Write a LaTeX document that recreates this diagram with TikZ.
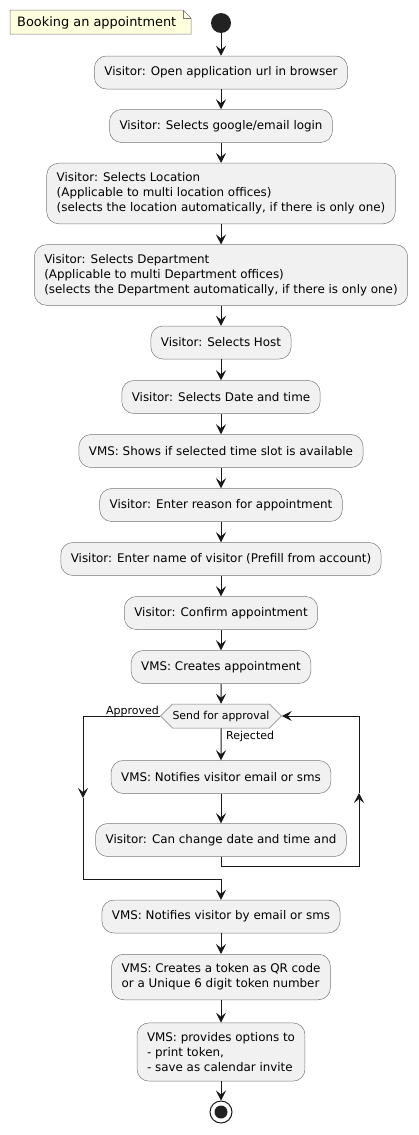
\documentclass[tikz,border=0pt]{standalone}
\usepackage{fontspec}
\setmainfont{DejaVu Sans}
\definecolor{boxfill}{RGB}{241,241,241}
\definecolor{boxline}{RGB}{120,120,120}
\definecolor{notefill}{RGB}{254,255,221}
\definecolor{flowline}{RGB}{24,24,24}
\definecolor{dotfill}{RGB}{34,34,34}
\usetikzlibrary{arrows.meta, positioning, shapes.symbols}

\begin{document}
\begin{tikzpicture}[
  x=1pt, y=-1pt,
  font=\fontsize{11.9}{15}\selectfont,
  act/.style={rectangle, rounded corners=12pt, draw=boxline, line width=0.5pt, fill=boxfill, minimum height=33pt, inner xsep=10pt, inner ysep=9.5pt, align=left},
  cond/.style={signal, signal to=east and west, signal pointer angle=90, draw=boxline, line width=0.5pt, fill=boxfill, minimum height=24pt, inner xsep=0pt, inner ysep=0pt, font=\fontsize{10.9}{13}\selectfont},
  startdot/.style={circle, fill=dotfill, minimum size=20pt, inner sep=0pt},
  enddot/.style={circle, draw=flowline, line width=1pt, fill=white, minimum size=22pt, inner sep=0pt,
    path picture={\fill[dotfill] (path picture bounding box.center) circle (6.5pt);}},
  arr/.style={-{Stealth[length=10pt, width=10pt, inset=4pt]}, line width=1pt, flowline},
  lbl/.style={font=\fontsize{11}{13}\selectfont, inner sep=0pt}
]
  \useasboundingbox (0,0) rectangle (419,1135);

  % note
  \filldraw[fill=notefill, draw=boxline, line width=0.5pt] (10,10) -- (183,10) -- (191,18) -- (191,34) -- (10,34) -- cycle;
  \draw[boxline, line width=0.5pt] (183,10) -- (183,18) -- (191,18);
  \node[anchor=west, inner sep=0pt, font=\fontsize{12.9}{15}\selectfont] (note) at (17,22.5) {Booking an appointment};

  \node[startdot] (start) at (221,23) {};
  \node[act] (open) at (221,72.5) {Visitor: Open application url in browser};
  \node[act] (login) at (221,126) {Visitor: Selects google/email login};
  \node[act] (loc) at (221,193.5) {Visitor: Selects Location\\(Applicable to multi location offices)\\(selects the location automatically, if there is only one)};
  \node[act] (dept) at (221,275) {Visitor: Selects Department\\(Applicable to multi Department offices)\\(selects the Department automatically, if there is only one)};
  \node[act] (host) at (221,342.5) {Visitor: Selects Host};
  \node[act] (date) at (221,397) {Visitor: Selects Date and time};
  \node[act] (slot) at (221,451) {VMS: Shows if selected time slot is available};
  \node[act] (reason) at (221,505) {Visitor: Enter reason for appointment};
  \node[act] (name) at (221,559) {Visitor: Enter name of visitor (Prefill from account)};
  \node[act] (confirm) at (221,613) {Visitor: Confirm appointment};
  \node[act] (create) at (221,667) {VMS: Creates appointment};

  \node[cond] (approval) at (221,716) {Send for approval};
  \node[act] (reject) at (221,777) {VMS: Notifies visitor email or sms};
  \node[act] (change) at (221,840) {Visitor: Can change date and time and};

  \node[act] (notify) at (221,916.5) {VMS: Notifies visitor by email or sms};
  \node[act] (token) at (221,977) {VMS: Creates a token as QR code\\or a Unique 6 digit token number};
  \node[act] (options) at (221,1052) {VMS: provides options to\\- print token,\\- save as calendar invite};
  \node[enddot] (stop) at (221,1112) {};

  \foreach \a/\b in {start/open, open/login, login/loc, loc/dept, dept/host, host/date, date/slot,
    slot/reason, reason/name, name/confirm, confirm/create, create/approval, approval/reject,
    reject/change, notify/token, token/options, options/stop}
    \draw[arr] (\a) -- (\b);

  % approved branch
  \coordinate (lmid) at (83,798);
  \coordinate (join) at (221,879);
  \draw[arr] (approval.west) -| (lmid);
  \draw[arr] (lmid) |- (join) -- (notify.north);

  % rejected loop back
  \coordinate (rmid) at (359,793);
  \draw[arr] (change.south) -- ++(0,10) -| (rmid);
  \draw[arr] (rmid) |- (approval.east);

  \node[lbl, anchor=base east] (approved) at (159,714) {Approved};
  \node[lbl, anchor=base west] (rejected) at (226,739) {Rejected};
\end{tikzpicture}
\end{document}
